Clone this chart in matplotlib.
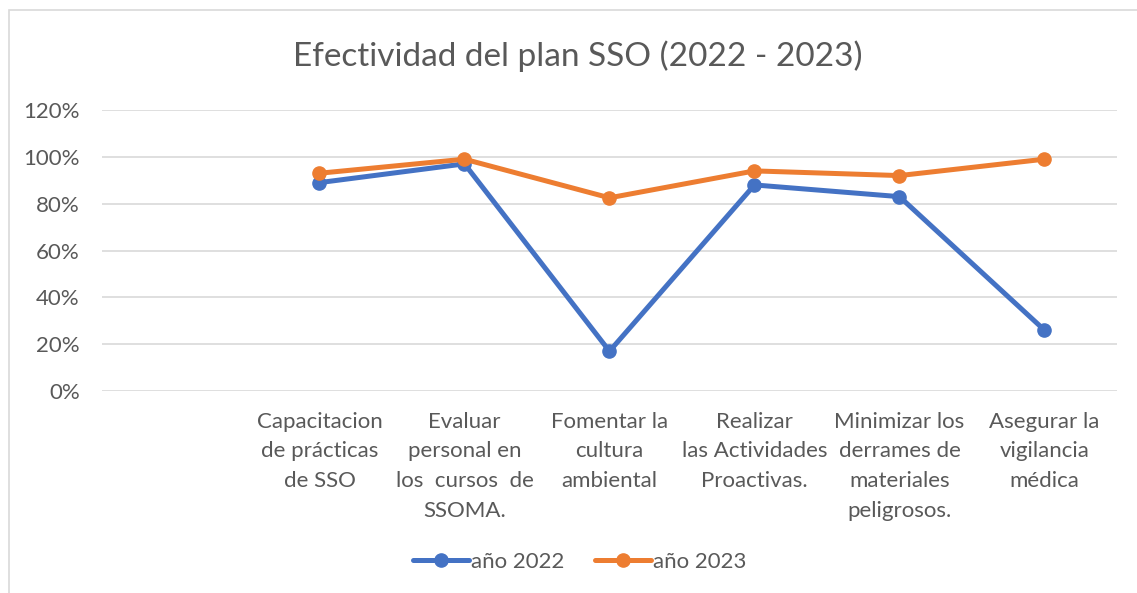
import matplotlib.pyplot as plt
from matplotlib.patches import Rectangle
from matplotlib.ticker import PercentFormatter

# categories (first slot is empty in the original chart)
categories = ["",
              "Capacitacion\nde prácticas\nde SSO",
              "Evaluar\npersonal en\nlos  cursos  de\nSSOMA.",
              "Fomentar la\ncultura\nambiental",
              "Realizar\nlas Actividades\nProactivas.",
              "Minimizar los\nderrames de\nmateriales\npeligrosos.",
              "Asegurar la\nvigilancia\nmédica"]
y2022 = [0.89, 0.97, 0.17, 0.88, 0.83, 0.26]
y2023 = [0.93, 0.99, 0.825, 0.94, 0.92, 0.99]
yticks = [0, 0.2, 0.4, 0.6, 0.8, 1.0, 1.2]

plt.rcParams['font.family'] = ['Lato', 'DejaVu Sans']
txt = '#595959'

fig = plt.figure(figsize=(11.37, 5.93), dpi=100)
ax = fig.add_axes([0.0897, 0.3406, 0.8927, 0.4739])

xs = list(range(1, len(categories)))
ax.plot(xs, y2022, color='#4472C4', lw=3.6, marker='o', ms=9.5,
        label='año 2022', solid_capstyle='round')
ax.plot(xs, y2023, color='#ED7D31', lw=3.6, marker='o', ms=9.5,
        label='año 2023', solid_capstyle='round')

ax.set_xlim(-0.5, len(categories) - 0.5)
ax.set_ylim(0, 1.2)
ax.set_yticks(yticks)
ax.yaxis.set_major_formatter(PercentFormatter(1.0, decimals=0))
ax.set_xticks(range(len(categories)))
ax.set_xticklabels(categories, linespacing=1.6)
ax.tick_params(axis='x', length=0, pad=15, labelsize=16, labelcolor=txt)
ax.tick_params(axis='y', length=0, pad=16, labelsize=16, labelcolor=txt)
ax.grid(axis='y', color='#D9D9D9', lw=1.2)
ax.set_axisbelow(True)
for s in ax.spines.values():
    s.set_visible(False)

fig.text(0.508, 0.905, 'Efectividad del plan SSO (2022 - 2023)',
         ha='center', va='center', fontsize=24, color=txt)

fig.legend(loc='center', bbox_to_anchor=(0.51, 0.052), ncol=2, frameon=False,
           fontsize=16, labelcolor=txt, handlelength=2.5, handletextpad=0.1,
           columnspacing=1.4)

fig.patches.append(Rectangle((0.008, -0.01), 1.0, 0.993, transform=fig.transFigure,
                             fill=False, edgecolor='#D9D9D9', lw=1.2))

fig.savefig('out.png', dpi=100)
